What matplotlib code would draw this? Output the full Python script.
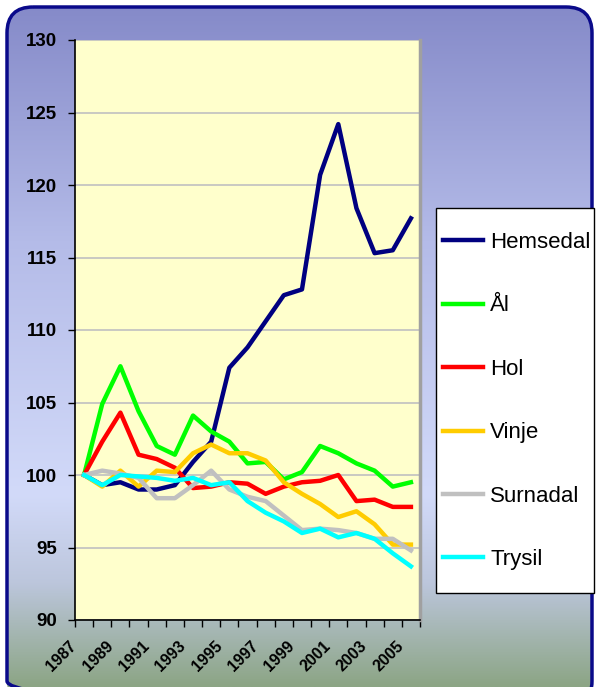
import numpy as np
import matplotlib.pyplot as plt
import matplotlib.transforms as mtrans
from matplotlib.colors import LinearSegmentedColormap
from matplotlib.patches import FancyBboxPatch, Rectangle
from matplotlib.ticker import FixedLocator

plt.rcParams['font.family'] = ['Liberation Sans', 'DejaVu Sans']

years = list(range(1987, 2006))
hemsedal = [100, 99.3, 99.5, 99.0, 99.0, 99.3, 100.9, 102.3, 107.4, 108.8, 110.6,
            112.4, 112.8, 120.7, 124.2, 118.4, 115.3, 115.5, 117.7]
aal = [100, 104.9, 107.5, 104.4, 102.0, 101.4, 104.1, 103.0, 102.3, 100.8, 100.9,
       99.7, 100.2, 102.0, 101.5, 100.8, 100.3, 99.2, 99.5]
hol = [100, 102.3, 104.3, 101.4, 101.1, 100.5, 99.1, 99.2, 99.5, 99.4, 98.7,
       99.2, 99.5, 99.6, 100.0, 98.2, 98.3, 97.8, 97.8]
vinje = [100, 99.2, 100.3, 99.2, 100.3, 100.2, 101.5, 102.1, 101.5, 101.5, 101.0,
         99.5, 98.7, 98.0, 97.1, 97.5, 96.6, 95.2, 95.2]
surnadal = [100, 100.3, 100.1, 99.8, 98.4, 98.4, 99.3, 100.3, 99.0, 98.5, 98.2,
            97.2, 96.2, 96.3, 96.2, 96.0, 95.6, 95.6, 94.8]
trysil = [100, 99.3, 100.0, 99.9, 99.8, 99.6, 99.8, 99.3, 99.5, 98.2, 97.4,
          96.8, 96.0, 96.3, 95.7, 96.0, 95.6, 94.6, 93.7]

series = [("Hemsedal", hemsedal, "#000080"),
          ("Ål", aal, "#00ff00"),
          ("Hol", hol, "#ff0000"),
          ("Vinje", vinje, "#ffcc00"),
          ("Surnadal", surnadal, "#c0c0c0"),
          ("Trysil", trysil, "#00ffff")]

W, H = 596, 687
fig = plt.figure(figsize=(W / 100, H / 100), dpi=100)
fig.patch.set_facecolor("white")

# background gradient inside a rounded frame
bg = fig.add_axes([0, 0, 1, 1], zorder=0)
bg.set_xlim(0, W)
bg.set_ylim(H, 0)
bg.axis("off")
cmap = LinearSegmentedColormap.from_list(
    "bg", [(0.0, "#8489c8"), (0.35, "#b4bbe8"), (0.72, "#d2daf9"),
           (0.85, "#bcc6dc"), (1.0, "#8ca585")])
grad = np.linspace(0, 1, 256).reshape(-1, 1)
frame = FancyBboxPatch((7, 7), 585, 700, boxstyle="round,pad=0,rounding_size=26",
                       facecolor="none", edgecolor="#0a0a8a", linewidth=2.5)
bg.add_patch(frame)
img = bg.imshow(grad, cmap=cmap, extent=(0, W, H, 0), aspect="auto")
img.set_clip_path(frame)
# legend box
bg.add_patch(Rectangle((436, 208), 158, 385, facecolor="white",
                       edgecolor="black", linewidth=1.0, zorder=3))

ax = fig.add_axes([75 / W, 1 - 620 / H, 345 / W, 580 / H], zorder=1)
ax.set_facecolor("#ffffcc")
x = np.arange(len(years))
for name, vals, col in series:
    ax.plot(x, vals, color=col, lw=3.2, label=name)

ax.set_xlim(-0.5, len(years) - 0.5)
ax.set_ylim(90, 130)
yt = np.arange(90, 131, 5)
ax.set_yticks(yt)
ax.set_yticklabels([str(v) for v in yt], fontsize=13.5, fontweight="bold")
ax.grid(axis="y", color="#c0c0c0", lw=1.2)
ax.set_axisbelow(True)

# category ticks between years, labels every second year
ax.set_xticks([])
ax.xaxis.set_minor_locator(FixedLocator(np.arange(-0.5, len(years), 1)))
ax.tick_params(axis="x", which="minor", length=5, width=1, direction="out")
ax.tick_params(axis="y", which="major", length=5, width=1, direction="out", pad=7.7)
shift = mtrans.ScaledTranslation(-15 / 100, -18.5 / 100, fig.dpi_scale_trans)
for xi, yr in zip(x[::2], years[::2]):
    ax.text(xi, 0, str(yr), transform=ax.get_xaxis_transform() + shift,
            rotation=45, ha="right", va="top", rotation_mode="anchor",
            fontsize=11.5, fontweight="bold", clip_on=False)

ax.spines["top"].set_visible(False)
ax.spines["right"].set_color("#a0a0a0")
ax.spines["right"].set_linewidth(2.5)
ax.spines["left"].set_linewidth(1.2)
ax.spines["bottom"].set_linewidth(1.2)

leg = fig.legend(loc="upper left", bbox_to_anchor=(443 / W, 1 - 232 / H),
                 bbox_transform=fig.transFigure, frameon=False,
                 fontsize=16, handlelength=1.8, handletextpad=0.32,
                 labelspacing=1.91, borderpad=0, borderaxespad=0)

fig.savefig("out.png", dpi=100)
